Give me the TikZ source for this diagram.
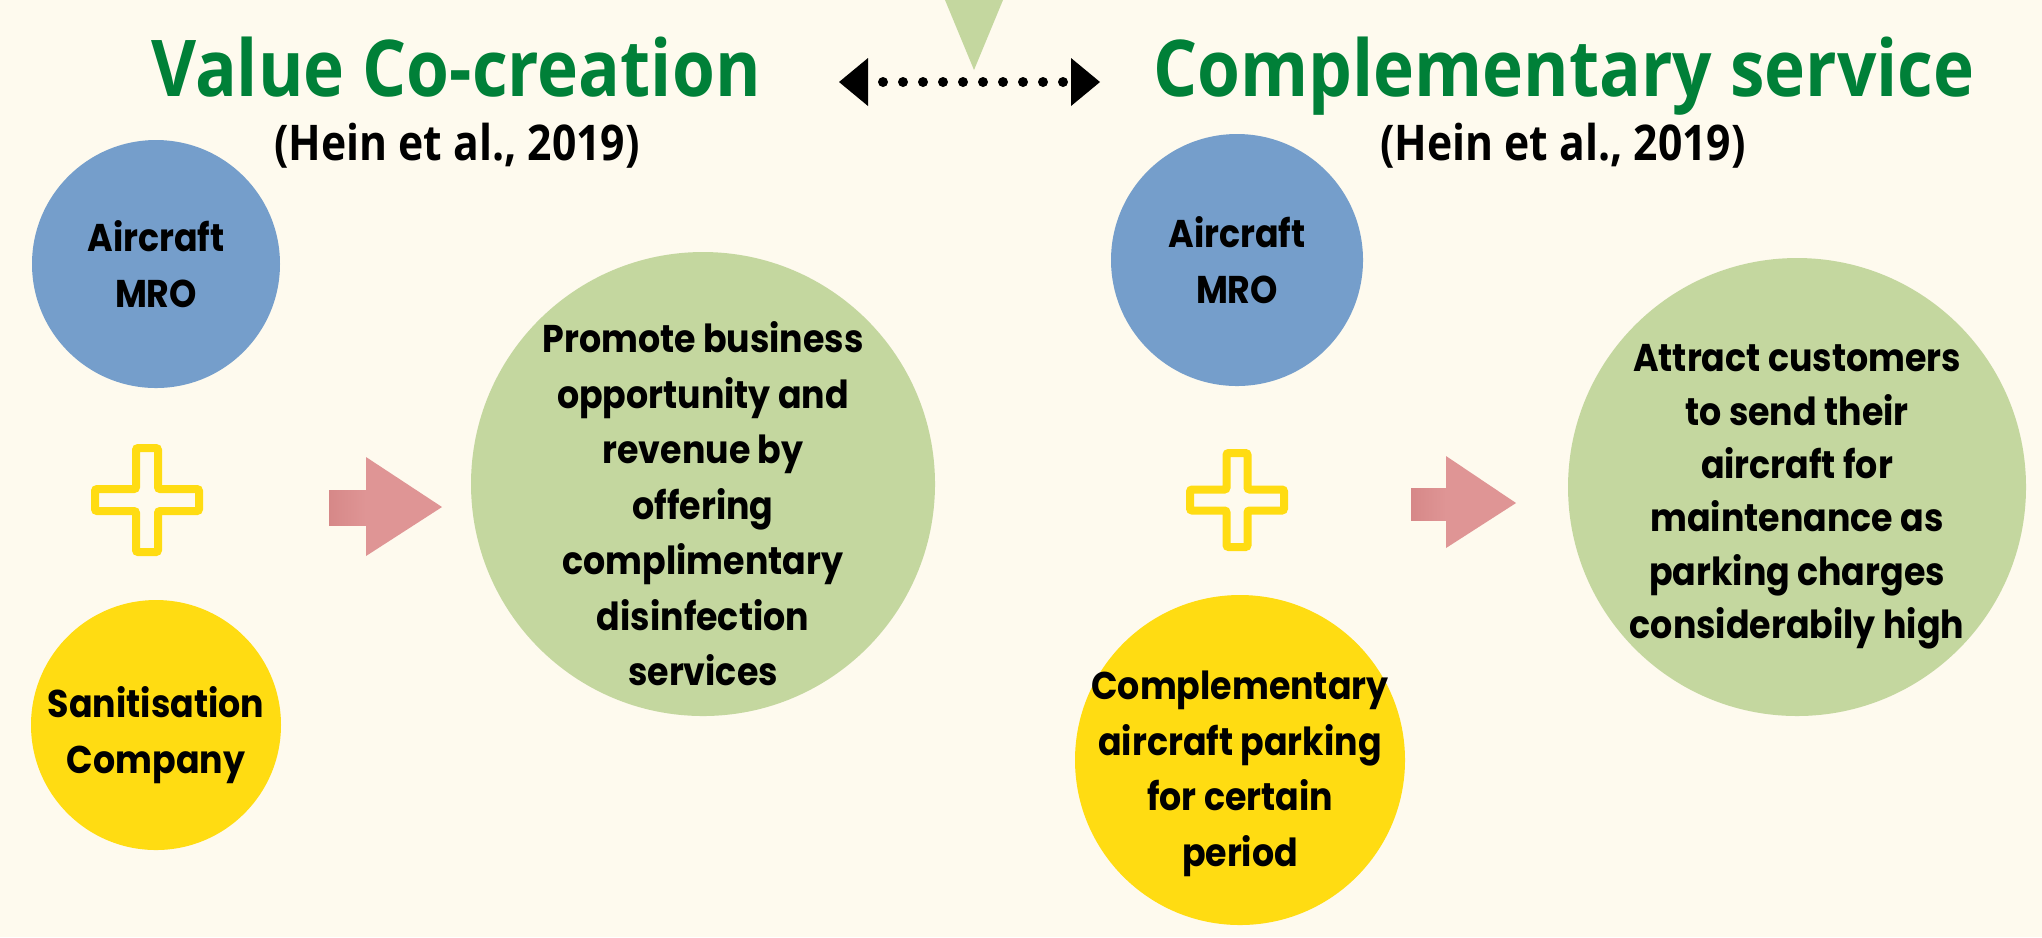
\documentclass[tikz,border=0pt]{standalone}
\usepackage{fontspec}
\setmainfont{Poppins}[FakeStretch=0.9]
\newfontfamily\headfont{Open Sans}[FakeStretch=0.885]
\newfontfamily\citefont{Open Sans}[FakeStretch=0.867]
\usetikzlibrary{arrows.meta}
\definecolor{bgcream}{HTML}{FEFAEE}
\definecolor{headgreen}{HTML}{008038}
\definecolor{mroblue}{HTML}{759ECB}
\definecolor{plusyellow}{HTML}{FFDC12}
\definecolor{leafgreen}{HTML}{C4D79F}
\definecolor{arrowpink}{HTML}{DF9595}
\definecolor{tailpink}{HTML}{D68888}
\tikzset{
    bubble/.style={circle,inner sep=0pt},
    blurb/.style={align=center,font=\bfseries\fontsize{11}{15.8}\selectfont},
    headline/.style={anchor=base,text=headgreen,font=\headfont\bfseries\fontsize{22.3}{26}\selectfont},
    cite/.style={anchor=base,font=\citefont\bfseries\fontsize{14}{17}\selectfont},
    plusmark/.style={draw=plusyellow,line width=0.08cm,rounded corners=0.6pt},
    dotarrow/.style={line width=0.1cm,line cap=round,dash pattern=on 0pt off 0.2cm,dash phase=0.05cm,
        {Triangle[length=0.29cm,width=0.48cm,line width=0pt]}-{Triangle[length=0.29cm,width=0.48cm,line width=0pt]}},
}
\begin{document}
\begin{tikzpicture}
    %% Background
    \fill[bgcream] (0,0) rectangle (20.42,-9.37);
    \useasboundingbox (0,0) rectangle (20.42,-9.37);
    %% Headings
    \node[headline] (titleL) at (4.56,-0.96) {Value Co-creation};
    \node[cite] (heinL) at (4.57,-1.60) {(Hein et al., 2019)};
    \node[headline] (titleR) at (15.64,-0.96) {Complementary service};
    \node[cite] (heinR) at (15.63,-1.60) {(Hein et al., 2019)};
    %% Link between the two
    \fill[leafgreen] (9.45,0) -- (10.03,0) -- (9.74,-0.70) -- cycle;
    \coordinate (linkL) at (8.39,-0.82);
    \coordinate (linkR) at (11.00,-0.82);
    \draw[dotarrow] (linkL) -- (linkR);
    %% Value co-creation
    \node[bubble,blurb,fill=mroblue,minimum size=2.48cm] (mroL) at (1.56,-2.64) {Aircraft\\MRO};
    \draw[plusmark,shift={(1.47,-5.00)}] (0.11,0.52) -- (0.11,0.11) -- (0.52,0.11) -- (0.52,-0.11) -- (0.11,-0.11) -- (0.11,-0.52)
        -- (-0.11,-0.52) -- (-0.11,-0.11) -- (-0.52,-0.11) -- (-0.52,0.11) -- (-0.11,0.11) -- (-0.11,0.52) -- cycle;
    \node[bubble,fill=plusyellow,minimum size=2.50cm] (sanL) at (1.56,-7.25) {};
    \node[blurb] (sanText) at (1.56,-7.35) {Sanitisation\\Company};
    \fill[arrowpink] (3.29,-4.90) -- (3.66,-4.90) -- (3.66,-4.57) -- (4.42,-5.07) -- (3.66,-5.56) -- (3.66,-5.25) -- (3.29,-5.25) -- cycle;
    \shade[left color=tailpink,right color=arrowpink] (3.29,-4.90) rectangle (3.66,-5.25);
    \node[bubble,fill=leafgreen,minimum size=4.64cm] (promo) at (7.03,-4.84) {};
    \node[blurb] (promoText) at (7.03,-5.04) {Promote business\\opportunity and\\revenue by\\offering\\complimentary\\disinfection\\services};
    %% Complementary service
    \node[bubble,blurb,fill=mroblue,minimum size=2.52cm] (mroR) at (12.37,-2.60) {Aircraft\\MRO};
    \draw[plusmark,shift={(12.37,-5.00)}] (0.105,0.47) -- (0.105,0.105) -- (0.47,0.105) -- (0.47,-0.105) -- (0.105,-0.105) -- (0.105,-0.47)
        -- (-0.105,-0.47) -- (-0.105,-0.105) -- (-0.47,-0.105) -- (-0.47,0.105) -- (-0.105,0.105) -- (-0.105,0.47) -- cycle;
    \node[bubble,fill=plusyellow,minimum size=3.30cm] (parkR) at (12.40,-7.60) {};
    \node[blurb] (parkText) at (12.40,-7.74) {Complementary\\aircraft parking\\for certain\\period};
    \fill[arrowpink] (14.11,-4.88) -- (14.46,-4.88) -- (14.46,-4.56) -- (15.16,-5.03) -- (14.46,-5.48) -- (14.46,-5.20) -- (14.11,-5.20) -- cycle;
    \shade[left color=tailpink,right color=arrowpink] (14.11,-4.88) rectangle (14.46,-5.20);
    \node[bubble,fill=leafgreen,minimum size=4.58cm] (attract) at (17.97,-4.87) {};
    \node[blurb,font=\bfseries\fontsize{11}{15.2}\selectfont] (attractText) at (17.97,-4.97) {Attract customers\\to send their\\aircraft for\\maintenance as\\parking charges\\considerabily high};
\end{tikzpicture}
\end{document}
